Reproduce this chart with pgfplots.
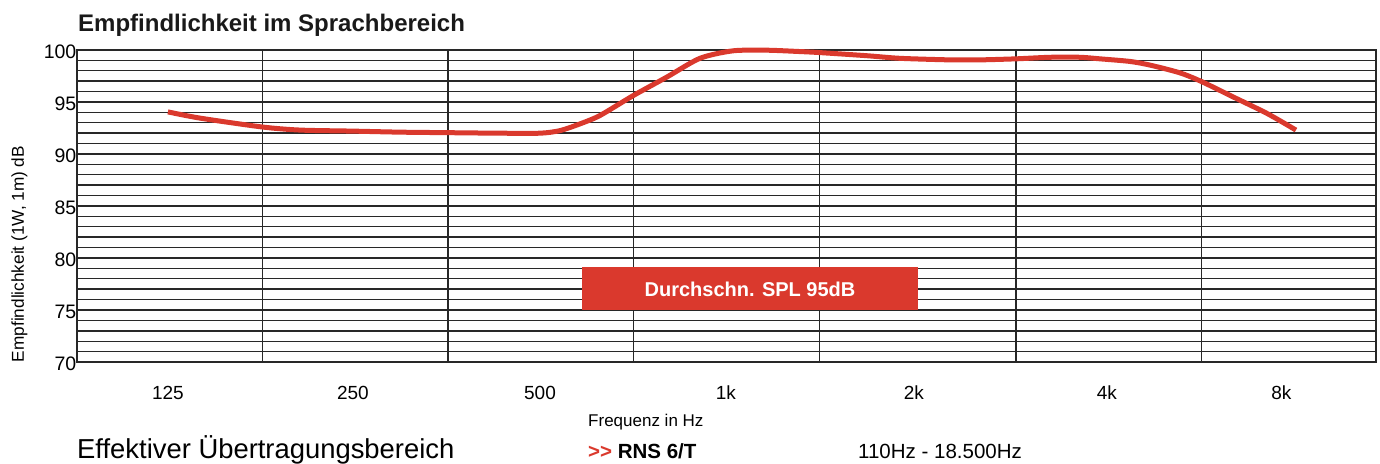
\documentclass[border=0pt]{standalone}
\usepackage{pgfplots}
\pgfplotsset{compat=1.18}
\usepackage{fontspec}
\setmainfont{Liberation Sans}
\definecolor{myred}{RGB}{218,57,45}
\definecolor{gridc}{RGB}{40,40,40}
\begin{document}
\begin{tikzpicture}[x=1pt,y=1pt]
\useasboundingbox (0,0) rectangle (1380,463);
\begin{axis}[
  at={(77pt,101pt)}, anchor=south west,
  scale only axis, width=1299pt, height=312pt,
  xmin=0, xmax=7, ymin=70, ymax=100,
  clip=false,
  /pgf/number format/assume math mode=true,
  xtick={1,2,3,4,5.06,6.06}, xticklabels={},
  xmajorgrids,
  major x grid style={line width=1.5pt, color=gridc},
  ytick={70,75,...,100},
  minor y tick num=4,
  ymajorgrids, yminorgrids,
  major y grid style={line width=2pt, color=gridc},
  minor y grid style={line width=1.4pt, color=gridc},
  major tick length=0pt, minor tick length=0pt,
  axis line style={line width=1.5pt, color=gridc},
  yticklabel style={font=\fontsize{19.5}{19.5}\selectfont, anchor=east, inner sep=0pt, xshift=-0.5pt, yshift=-1.5pt},
  xticklabel style={font=\fontsize{19}{19}\selectfont, anchor=north, inner sep=0pt, yshift=-12pt},
  extra x ticks={0.49,1.487,2.495,3.497,4.51,5.55,6.49},
  extra x tick labels={125,250,500,1k,2k,4k,8k},
  extra x tick style={grid=none, major tick length=0pt,
     xticklabel style={font=\fontsize{19}{19}\selectfont, anchor=north, inner sep=0pt, yshift=-12pt}},
]
\draw[line width=2.8pt, color=gridc] (rel axis cs:0,0) -- (rel axis cs:1,0);
\draw[line width=2.8pt, color=gridc] (rel axis cs:0,1) -- (rel axis cs:1,1);
\addplot[color=myred, line width=5pt, smooth, tension=0.45, line cap=butt] coordinates {
(0.490,94.05)
(0.663,93.45)
(0.997,92.6)
(1.202,92.3)
(1.487,92.2)
(1.741,92.1)
(1.999,92.05)
(2.279,92.0)
(2.495,92.0)
(2.603,92.25)
(2.711,92.9)
(2.818,93.7)
(2.996,95.6)
(3.179,97.4)
(3.357,99.2)
(3.535,99.92)
(3.718,99.98)
(3.896,99.85)
(4.004,99.75)
(4.257,99.45)
(4.435,99.2)
(4.704,99.05)
(4.866,99.05)
(5.060,99.15)
(5.243,99.3)
(5.405,99.3)
(5.513,99.15)
(5.674,98.9)
(5.782,98.55)
(5.944,97.8)
(6.062,96.95)
(6.229,95.5)
(6.413,93.9)
(6.569,92.3)
};
\end{axis}
% red box with label
\fill[myred] (582,153) rectangle (918,196);
\node[text=white, font=\bfseries\fontsize{20}{20}\selectfont, inner sep=0pt] at (750,174) {Durchschn. SPL 95dB};
% title
\node[anchor=base west, font=\bfseries\fontsize{24}{24}\selectfont, inner sep=0pt, text=black!90] at (78,431) {Empfindlichkeit im Sprachbereich};
% y label
\node[rotate=90, anchor=base, font=\fontsize{17.2}{17.2}\selectfont, inner sep=0pt] at (24,209) {Empfindlichkeit (1W, 1m) dB};
% bottom texts
\node[anchor=base west, font=\fontsize{17}{17}\selectfont, inner sep=0pt] at (588,37) {Frequenz in Hz};
\node[anchor=base west, font=\fontsize{27.4}{27.4}\selectfont, inner sep=0pt] at (77,5) {Effektiver Übertragungsbereich};
\node[anchor=base west, font=\bfseries\fontsize{20.5}{20.5}\selectfont, inner sep=0pt] at (588,5) {\textcolor{myred}{>{}>} RNS 6/T};
\node[anchor=base west, font=\fontsize{20.5}{20.5}\selectfont, inner sep=0pt] at (858,5) {110Hz - 18.500Hz};
\end{tikzpicture}
\end{document}
